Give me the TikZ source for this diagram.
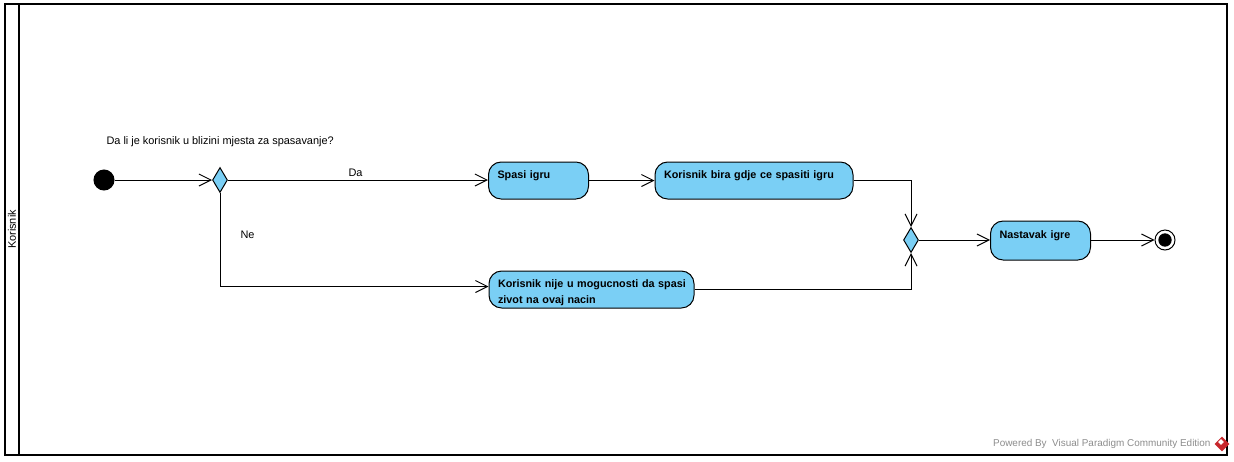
\documentclass[tikz,border=0pt]{standalone}
\usepackage{fontspec}
\setmainfont{Liberation Sans}
\usetikzlibrary{arrows.meta,shapes.geometric}
\definecolor{actblue}{RGB}{122,207,245}
\definecolor{vpred}{RGB}{200,40,45}

\begin{document}
\begin{tikzpicture}[x=0.75pt,y=-0.75pt,line width=0.75pt]
    % `activity' is used for the rounded action boxes.
    % `branch' is used for the decision and merge diamonds.
    % `flow' is used for all connectors.
    \tikzstyle{activity} = [draw,fill=actblue,rounded corners=9.5pt,inner xsep=6.75pt,inner ysep=0pt,
      align=left,font=\fontsize{8.1pt}{12pt}\selectfont\bfseries,text height=12pt,text depth=15.75pt]
    \tikzstyle{branch} = [draw,fill=actblue,shape=diamond,inner sep=0pt,minimum width=11.25pt,minimum height=18.75pt]
    \tikzstyle{flow} = [-{Straight Barb[length=9pt,width=9pt,line width=0.75pt]}]
    \tikzstyle{caption} = [font=\fontsize{8.2pt}{10pt}\selectfont,inner sep=0pt]
    \tikzstyle{lane} = [draw,line width=1.5pt,inner sep=0pt]
    %
    \useasboundingbox (0,0) rectangle (1234,461);
    % Swimlane frame and its title bar.
    \node[lane,minimum width=906pt,minimum height=338.25pt] (body) at (623,229.5) {};
    \node[lane,rotate=90,minimum width=338.25pt,minimum height=10.5pt,font=\fontsize{8.2pt}{10pt}\selectfont] (title) at (12,229.5) {Korisnik};

    % Start, branches and end.
    \node[draw,fill=black,circle,minimum size=15pt,inner sep=0pt] (start) at (104,180) {};
    \node[branch] (decision) at (220,180) {};
    \node[branch] (merge) at (911,240) {};
    \node[draw,fill=white,circle,minimum size=15pt,inner sep=0pt] (stop) at (1165,240) {};
    \node[fill=black,circle,minimum size=10pt,inner sep=0pt] (stopdot) at (stop) {};

    % Actions.
    \node[activity,text width=61.5pt] (save) at (538.5,180.5) {Spasi igru};
    \node[activity,text width=135pt] (choose) at (754,180.5) {Korisnik bira gdje ce spasiti igru};
    \node[activity,text width=140.25pt] (nosave) at (591.5,289.5)
      {\makebox[130pt][l]{Korisnik nije u mogucnosti da spasi}\\zivot na ovaj nacin};
    \node[activity,text width=61.5pt,text height=12.75pt,text depth=16.5pt] (next) at (1040.5,240.5) {Nastavak igre};

    % Texts.
    \node[caption,anchor=west] (question) at (106,142) {Da li je korisnik u blizini mjesta za spasavanje?};
    \node[caption,anchor=west] (yes) at (348,173) {Da};
    \node[caption,anchor=west] (no) at (240,235) {Ne};
    \node[caption,anchor=east,text=black!45,font=\fontsize{7.45pt}{10pt}\selectfont] (powered) at (1211,444) {Powered By\ \ Visual Paradigm Community Edition};

    % Logo.
    \node[fill=vpred,shape=diamond,inner sep=0pt,minimum size=11.5pt] (logo) at (1222,444) {};
    \node[fill=white,shape=diamond,inner sep=0pt,minimum size=4.5pt] (logodot) at (1221,442) {};

    % Draw lines.
    \draw[flow] (start) -- (decision);
    \draw[flow] (decision) -- (decision -| save.west);
    \draw[flow] (decision.south) |- ([yshift=2.25pt]nosave.west);
    \draw[flow] (save) -- (choose);
    \draw[flow] (choose.east) -| (merge.north);
    \draw[flow] (nosave.east) -| (merge.south);
    \draw[flow] (merge) -- (merge -| next.west);
    \draw[flow] (merge -| next.east) -- (stop);
\end{tikzpicture}
\end{document}
